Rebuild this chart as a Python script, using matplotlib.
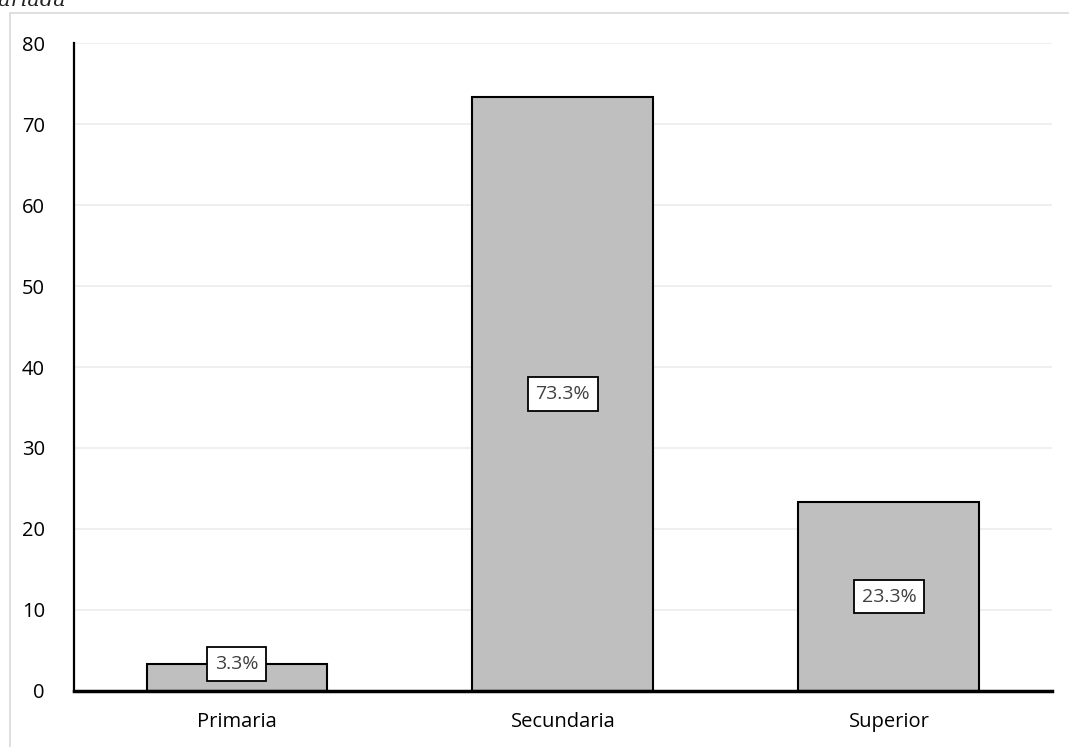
import matplotlib
matplotlib.use("Agg")
import matplotlib.pyplot as plt
from matplotlib.patches import Rectangle

# data
categorias = ["Primaria", "Secundaria", "Superior"]
porcentajes = [3.3, 73.3, 23.3]
yticks = [0, 10, 20, 30, 40, 50, 60, 70, 80]

plt.rcParams['font.family'] = ['Open Sans', 'DejaVu Sans']

fig = plt.figure(figsize=(10.69, 7.47), dpi=100)
ax = fig.add_axes([0.0692, 0.075, 0.9148, 0.8674])

# outer chart frame (light gray)
fig.patches.append(Rectangle((10 / 1069, -0.1), 1.2, 1 - 13 / 747 + 0.1,
                             transform=fig.transFigure, fill=False,
                             edgecolor="#d9d9d9", linewidth=1.2))

# cut-off caption at top
fig.text(-0.013, 1.0, "Variada", fontsize=15, style="italic",
         family="DejaVu Serif", va="center", ha="left", color="#222222")

x = range(len(categorias))
ax.bar(x, porcentajes, width=0.555, color="#bfbfbf", edgecolor="black",
       linewidth=1.5, zorder=3)

for i, v in zip(x, porcentajes):
    ypos = v / 2 if v / 2 > 3 else v
    ax.text(i, ypos, f"{v:.1f}%", ha="center", va="center", fontsize=14,
            color="#404040", zorder=5,
            bbox=dict(boxstyle="square,pad=0.4", facecolor="white",
                      edgecolor="black", linewidth=1.3))

ax.set_xlim(-0.5, 2.5)
ax.set_ylim(0, 80)
ax.set_yticks(yticks)
ax.set_xticks(list(x))
ax.set_xticklabels(categorias)
ax.tick_params(axis="both", length=0, labelsize=14.5, colors="black")
ax.tick_params(axis="y", pad=21)
ax.tick_params(axis="x", pad=15)
ax.yaxis.grid(True, color="#ececec", linewidth=1.2, zorder=0)
ax.set_axisbelow(True)

ax.spines["top"].set_visible(False)
ax.spines["right"].set_visible(False)
ax.spines["left"].set_linewidth(1.6)
ax.spines["bottom"].set_linewidth(2.5)
ax.spines["bottom"].set_zorder(4)

fig.savefig("out.png", dpi=100)
